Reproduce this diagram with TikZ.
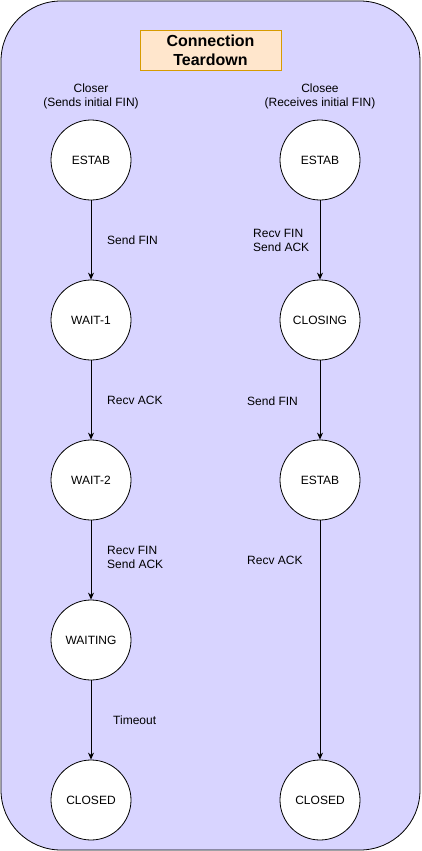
\documentclass[tikz,border=0pt]{standalone}
\usepackage{fontspec}
\setmainfont{Liberation Sans}
\usetikzlibrary{arrows.meta}
\definecolor{bgc}{RGB}{216,212,255}
\definecolor{titlefill}{RGB}{255,230,204}
\definecolor{titledraw}{RGB}{215,155,0}
\tikzset{
  state/.style={circle, draw=black, fill=white, line width=0.8pt, minimum size=80pt, inner sep=0pt, font=\fontsize{12pt}{14pt}\selectfont},
  lbl/.style={font=\fontsize{12pt}{14pt}\selectfont, inner sep=0pt, align=left, anchor=west},
  hdr/.style={font=\fontsize{12pt}{14pt}\selectfont, inner sep=0pt, align=center},
  conn/.style={-{Stealth[length=7pt,width=6pt]}, line width=0.8pt}
}
\begin{document}
\begin{tikzpicture}[x=1pt,y=-1pt]
\useasboundingbox (0,0) rectangle (421,851);
\draw[fill=bgc, draw=black, line width=0.8pt, rounded corners=60pt] (1,1) rectangle (420,850);
\node[draw=titledraw, fill=titlefill, line width=0.8pt, minimum width=141pt, minimum height=40pt, inner sep=0pt, align=center, font=\bfseries\fontsize{16pt}{19pt}\selectfont] (title) at (210.5,50) {Connection\\Teardown};
\node[hdr] (hl) at (91,96) {Closer\\(Sends initial FIN)};
\node[hdr] (hr) at (320,96) {Closee\\(Receives initial FIN)};
\node[state] (l1) at (91,160) {ESTAB};
\node[state] (l2) at (91,320) {WAIT-1};
\node[state] (l3) at (91,480) {WAIT-2};
\node[state] (l4) at (91,640) {WAITING};
\node[state] (l5) at (91,800) {CLOSED};
\node[state] (r1) at (320,160) {ESTAB};
\node[state] (r2) at (320,320) {CLOSING};
\node[state] (r3) at (320,480) {ESTAB};
\node[state] (r4) at (320,800) {CLOSED};
\draw[conn] (l1) -- (l2);
\draw[conn] (l2) -- (l3);
\draw[conn] (l3) -- (l4);
\draw[conn] (l4) -- (l5);
\draw[conn] (r1) -- (r2);
\draw[conn] (r2) -- (r3);
\draw[conn] (r3) -- (r4);
\node[lbl] (e1) at (107,240.5) {Send FIN};
\node[lbl] (e2) at (107,400) {Recv ACK};
\node[lbl] (e3) at (107,557) {Recv FIN\\Send ACK};
\node[lbl] (e4) at (113,720) {Timeout};
\node[lbl] (e5) at (253,240) {Recv FIN\\Send ACK};
\node[lbl] (e6) at (247,401) {Send FIN};
\node[lbl] (e7) at (247,560.5) {Recv ACK};
\end{tikzpicture}
\end{document}
